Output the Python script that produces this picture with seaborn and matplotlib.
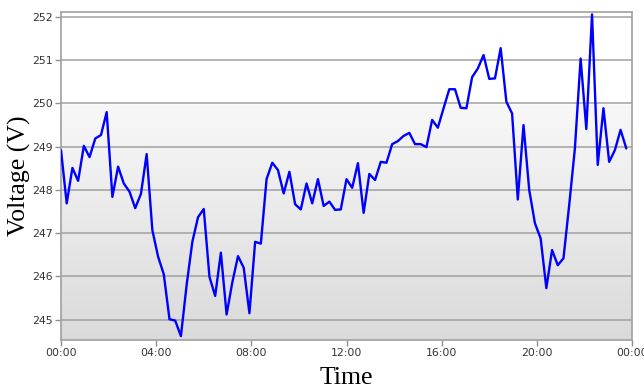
import numpy as np
import pandas as pd
import matplotlib
matplotlib.use("Agg")
import matplotlib.pyplot as plt
import seaborn as sns

# ---- data ----
step_hours = 0.24  # sample spacing
voltage = [
    248.92, 247.69, 248.51, 248.21, 249.02, 248.76, 249.19, 249.27, 249.80, 247.84,
    248.54, 248.15, 247.96, 247.58, 247.91, 248.83, 247.07, 246.46, 246.05, 245.01,
    244.98, 244.62, 245.80, 246.80, 247.37, 247.56, 245.99, 245.55, 246.55, 245.12,
    245.86, 246.47, 246.20, 245.15, 246.80, 246.76, 248.25, 248.63, 248.46, 247.92,
    248.42, 247.67, 247.55, 248.15, 247.69, 248.25, 247.63, 247.73, 247.54, 247.55,
    248.25, 248.05, 248.62, 247.47, 248.37, 248.23, 248.65, 248.63, 249.06, 249.13,
    249.25, 249.32, 249.06, 249.06, 248.99, 249.62, 249.44, 249.89, 250.33, 250.33,
    249.90, 249.89, 250.61, 250.81, 251.12, 250.57, 250.58, 251.28, 250.04, 249.77,
    247.78, 249.50, 248.00, 247.23, 246.88, 245.73, 246.61, 246.26, 246.42, 247.65,
    248.96, 251.04, 249.41, 252.06, 248.58, 249.89, 248.65, 248.92, 249.39, 248.96,
]
hours = [i * step_hours for i in range(len(voltage))]
x_ticks = [0, 4, 8, 12, 16, 20, 24]
x_tick_labels = ["00:00", "04:00", "08:00", "12:00", "16:00", "20:00", "00:00"]
y_ticks = [245, 246, 247, 248, 249, 250, 251, 252]

df = pd.DataFrame({"Time": hours, "Voltage": voltage})

sns.set_theme(style="white")
plt.rcParams["font.family"] = ["DejaVu Sans"]

fig = plt.figure(figsize=(6.44, 3.92), dpi=100)
ax = fig.add_axes([61 / 644, 1 - 340 / 392, (632 - 61) / 644, (340 - 12) / 392])

ylo, yhi = 244.53, 252.116
# gradient background
n = 256
t = np.linspace(0, 1, n)  # 0 top, 1 bottom
vals = np.where(t < 0.28, 255, 248 - (248 - 218) * (t - 0.28) / 0.72) / 255.0
img = np.dstack([vals, vals, vals]).reshape(n, 1, 3)
ax.imshow(img, extent=[0, 24, ylo, yhi], aspect="auto", zorder=0,
          interpolation="bilinear", origin="upper")

for yv in y_ticks:
    ax.axhline(yv, color="#a0a0a0", lw=1.1, zorder=1)

sns.lineplot(data=df, x="Time", y="Voltage", ax=ax, color="#0000ff",
             lw=1.7, zorder=3)

ax.set_xlim(0, 24)
ax.set_ylim(ylo, yhi)
ax.set_xticks(x_ticks)
ax.set_xticklabels(x_tick_labels)
ax.set_yticks(y_ticks)
ax.set_yticklabels([str(v) for v in y_ticks])
ax.tick_params(axis="both", which="major", length=4, width=1, color="#909090",
               labelsize=7.8, labelcolor="#333333", pad=2, direction="out")
ax.tick_params(axis="x", bottom=True)
ax.tick_params(axis="y", left=True)

for side in ["left", "right", "top", "bottom"]:
    ax.spines[side].set_visible(True)
    ax.spines[side].set_color("#a0a0a0")
    ax.spines[side].set_linewidth(1.2)

ax.grid(False)
ax.set_xlabel("Time", family="Liberation Serif", fontsize=18.5, color="black",
              labelpad=6)
ax.set_ylabel("Voltage (V)", family="Liberation Serif", fontsize=18.5,
              color="black", labelpad=1)

fig.savefig("out.png", dpi=100)
